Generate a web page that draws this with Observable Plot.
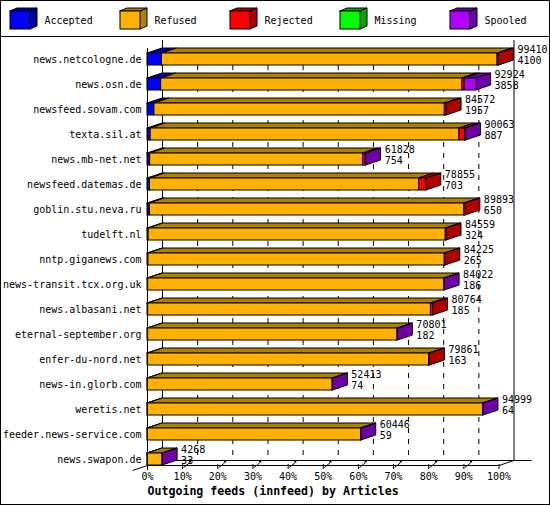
<!DOCTYPE html>
<html><head><meta charset="utf-8">
<script src="https://cdn.jsdelivr.net/npm/d3@7"></script>
<script src="https://cdn.jsdelivr.net/npm/@observablehq/plot@0.6"></script>
<style>
html,body{margin:0;padding:0;background:#fff;}
#wrap{position:relative;width:550px;height:505px;background:#fff;overflow:hidden;}
#legend{position:absolute;left:0;top:0;}
#sep{position:absolute;left:0;top:36px;width:550px;height:1px;background:#000;}
#chart{position:absolute;left:0;top:37px;}
#frame{position:absolute;left:0;top:0;width:548px;height:503px;border:1px solid #000;pointer-events:none;}
svg{overflow:visible;}
</style></head><body>
<div id="wrap"><div id="legend"></div><div id="sep"></div><div id="chart"></div><div id="frame"></div></div>
<script>
const feeds = ["news.netcologne.de","news.osn.de","newsfeed.sovam.com","texta.sil.at","news.mb-net.net","newsfeed.datemas.de","goblin.stu.neva.ru","tudelft.nl","nntp.giganews.com","news-transit.tcx.org.uk","news.albasani.net","eternal-september.org","enfer-du-nord.net","news-in.glorb.com","weretis.net","feeder.news-service.com","news.swapon.de"];
const totals   = [99410,92924,84572,90063,61828,78855,89893,84559,84225,84022,80764,70801,79861,52413,94999,60446,4268];
const accepted = [4100,3858,1957,887,754,703,650,324,265,186,185,182,163,74,64,59,33];
const refused  = [94910,85136,82135,87326,60224,76102,88943,84035,83810,83736,79979,70519,79498,52289,94835,60337,4215];
const rejected = [400,730,480,1700,750,2050,300,200,150,0,600,0,200,0,0,0,0];
const missing  = [0,0,0,0,0,0,0,0,0,0,0,0,0,0,0,0,0];
const spooled  = [0,3200,0,150,100,0,0,0,0,100,0,100,0,50,100,50,20];
const seriesNames = ["Accepted","Refused","Rejected","Missing","Spooled"];
const frontColors = ["#0000ff","#ffb000","#ff0000","#00ff00","#b000ff"];
const darkColors  = ["#0000a8","#b08000","#b00000","#00a800","#7000a8"];
const xTicks = [0,10,20,30,40,50,60,70,80,90,100];
const title = "Outgoing feeds (innfeed) by Articles";

const FONT = "'DejaVu Sans Mono', monospace";
const series = [accepted, refused, rejected, missing, spooled];
const maxTotal = d3.max(totals);
const PXPER = (498.5 - 147) / 100;
const DX = 15 / PXPER;   // depth offset in x units
const DY = 0.2;          // depth offset in row units
const H = 0.48;          // front face height in row units

const fronts = [], tops = [], sides = [], valLabels = [];
feeds.forEach((f, i) => {
  let cum = 0, last = 1, end = 0;
  series.forEach((arr, s) => {
    const v = arr[i];
    if (!v) return;
    const a = cum / maxTotal * 100;
    cum += v;
    const b = cum / maxTotal * 100;
    fronts.push({x1: a, x2: b, y1: i, y2: i + H, fill: frontColors[s]});
    const id = i + "-" + s;
    tops.push({id, y: i, x1: a, x2: b, fill: darkColors[s]},
              {id, y: i - DY, x1: a + DX, x2: b + DX, fill: darkColors[s]});
    last = s; end = b;
  });
  sides.push({id: i, x: end, y1: i, y2: i + H, fill: darkColors[last]},
             {id: i, x: end + DX, y1: i - DY, y2: i + H - DY, fill: darkColors[last]});
  valLabels.push({x: totals[i] / maxTotal * 100 + DX + 1, y: i - 0.16, t: String(totals[i])},
                 {x: totals[i] / maxTotal * 100 + DX + 1, y: i + 0.30, t: String(accepted[i])});
});

const FLOOR_F = 16.48, FLOOR_B = FLOOR_F - DY, TOP_B = -0.52;
const grid = xTicks.slice(1, -1);

const chart = Plot.plot({
  width: 550, height: 468,
  x: {type: "linear", domain: [0, 100], range: [147, 498.5], axis: null},
  y: {type: "linear", domain: [0, 18], range: [16, 466], axis: null},
  color: {type: "identity"},
  style: {fontFamily: FONT, fontSize: "10px", background: "transparent", overflow: "visible"},
  marks: [
    // back wall grid
    Plot.ruleX(grid, {x: d => d + DX, y1: H, y2: FLOOR_B, stroke: "black", strokeDasharray: "5,6"}),
    Plot.ruleX([0, 100], {x: d => d + DX, y1: TOP_B, y2: FLOOR_B, stroke: "black"}),
    // floor
    Plot.ruleY([FLOOR_B], {x1: DX, x2: 109.4, stroke: "black"}),
    Plot.ruleY([FLOOR_F], {x1: 0, x2: 100, stroke: "black"}),
    Plot.link([0], {x1: 100, y1: FLOOR_F, x2: 100 + DX, y2: FLOOR_B, stroke: "black"}),
    Plot.link([0], {x1: 0, y1: FLOOR_F, x2: -DX, y2: FLOOR_F + DY, stroke: "black"}),
    Plot.ruleX(xTicks.slice(1), {x: d => d, y1: FLOOR_F - 0.04, y2: FLOOR_F + 0.16, stroke: "black"}),
    Plot.link(grid, {x1: d => d + 0.3, y1: FLOOR_F + 0.08, x2: d => d + 1.9, y2: FLOOR_B + 0.1, stroke: "black"}),
    Plot.rect(grid, {x1: d => d + 1.9, x2: d => d + 2.5, y1: FLOOR_B, y2: FLOOR_B + 0.1, fill: "black"}),
    // bars
    Plot.areaY(sides, {x: "x", y1: "y1", y2: "y2", z: "id", fill: "fill", stroke: "black", strokeWidth: 1}),
    Plot.areaX(tops, {y: "y", x1: "x1", x2: "x2", z: "id", fill: "fill", stroke: "black", strokeWidth: 1}),
    Plot.rect(fronts, {x1: "x1", x2: "x2", y1: "y1", y2: "y2", fill: "fill", stroke: "black", strokeWidth: 1}),
    // front left axis
    Plot.ruleX([0], {y1: -DY, y2: FLOOR_F + 0.2, stroke: "black"}),
    // labels
    Plot.text(feeds, {x: 0, y: (d, i) => i + H / 2, text: d => d, textAnchor: "end", dx: -6, fill: "black"}),
    Plot.text(valLabels, {x: "x", y: "y", text: "t", textAnchor: "start", fill: "black"}),
    Plot.text(xTicks, {x: d => d, y: 16.94, text: d => d + "%", fill: "black"}),
    Plot.text([title], {x: 0, y: 17.5, text: d => d, textAnchor: "start", fontWeight: "bold", fontSize: 11.6, fill: "black"})
  ]
});
document.getElementById("chart").appendChild(chart);

// legend
const LW = 110, CW = 20 / LW, CDX = 7 / LW, CDY = 3;
const legFront = seriesNames.map((n, i) => ({x1: i, x2: i + CW, y1: 11, y2: 29, fill: frontColors[i]}));
const legTop = [], legSide = [];
seriesNames.forEach((n, i) => {
  legTop.push({id: i, y: 11, x1: i, x2: i + CW, fill: darkColors[i]},
              {id: i, y: 11 - CDY, x1: i + CDX, x2: i + CW + CDX, fill: darkColors[i]});
  legSide.push({id: i, x: i + CW, y1: 11, y2: 29, fill: darkColors[i]},
               {id: i, x: i + CW + CDX, y1: 11 - CDY, y2: 29 - CDY, fill: darkColors[i]});
});
const legend = Plot.plot({
  width: 550, height: 36,
  x: {type: "linear", domain: [0, 5], range: [10, 560], axis: null},
  y: {type: "linear", domain: [0, 36], range: [0, 36], axis: null},
  color: {type: "identity"},
  style: {fontFamily: FONT, fontSize: "10px", background: "transparent", overflow: "visible"},
  marks: [
    Plot.areaY(legSide, {x: "x", y1: "y1", y2: "y2", z: "id", fill: "fill", stroke: "black"}),
    Plot.areaX(legTop, {y: "y", x1: "x1", x2: "x2", z: "id", fill: "fill", stroke: "black"}),
    Plot.rect(legFront, {x1: "x1", x2: "x2", y1: "y1", y2: "y2", fill: "fill", stroke: "black"}),
    Plot.text(seriesNames, {x: (d, i) => i + 34 / LW, y: 20.5, text: d => d, textAnchor: "start", fill: "black"})
  ]
});
document.getElementById("legend").appendChild(legend);
</script>
</body></html>
